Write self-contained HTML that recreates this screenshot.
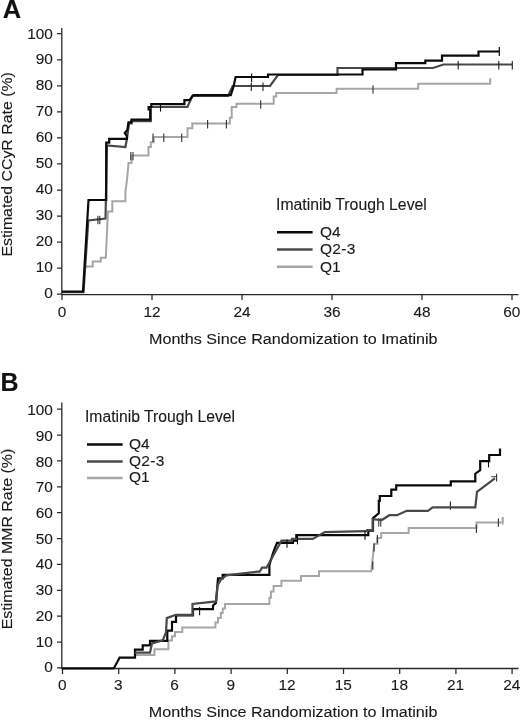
<!DOCTYPE html>
<html lang="en"><head><meta charset="utf-8"><title>Imatinib Trough Level</title>
<style>html,body{margin:0;padding:0;background:#fff}svg{display:block}text{stroke:#1a1a1a;stroke-width:.12px}</style></head><body>
<svg width="520" height="723" viewBox="0 0 520 723" font-family="'Liberation Sans', Arial, Helvetica, sans-serif" fill="#1a1a1a">
<rect width="520" height="723" fill="#fff"/>
<text x="2.7" y="18" font-size="25" font-weight="bold" fill="#111" textLength="18.4" lengthAdjust="spacingAndGlyphs">A</text>
<path d="M61.8,28V294.7H518.5" stroke="#2a2a2a" stroke-width="1.3" fill="none"/>
<path d="M57,294.20H61.8M57,268.15H61.8M57,242.10H61.8M57,216.05H61.8M57,190.00H61.8M57,163.95H61.8M57,137.90H61.8M57,111.85H61.8M57,85.80H61.8M57,59.75H61.8M57,33.70H61.8M62.0,294.7V300M152.0,294.7V300M242.0,294.7V300M332.0,294.7V300M422.0,294.7V300M512.0,294.7V300" stroke="#2a2a2a" stroke-width="1.25" fill="none"/>
<text x="52.9" y="297.5" font-size="15.4" text-anchor="end">0</text>
<text x="52.9" y="271.6" font-size="15.4" text-anchor="end">10</text>
<text x="52.9" y="245.7" font-size="15.4" text-anchor="end">20</text>
<text x="52.9" y="219.8" font-size="15.4" text-anchor="end">30</text>
<text x="52.9" y="193.9" font-size="15.4" text-anchor="end">40</text>
<text x="52.9" y="168.0" font-size="15.4" text-anchor="end">50</text>
<text x="52.9" y="142.1" font-size="15.4" text-anchor="end">60</text>
<text x="52.9" y="116.2" font-size="15.4" text-anchor="end">70</text>
<text x="52.9" y="90.3" font-size="15.4" text-anchor="end">80</text>
<text x="52.9" y="64.4" font-size="15.4" text-anchor="end">90</text>
<text x="52.9" y="38.5" font-size="15.4" text-anchor="end">100</text>
<text x="62.1" y="316.9" font-size="15.4" text-anchor="middle">0</text>
<text x="152.1" y="316.9" font-size="15.4" text-anchor="middle">12</text>
<text x="242.1" y="316.9" font-size="15.4" text-anchor="middle">24</text>
<text x="332.1" y="316.9" font-size="15.4" text-anchor="middle">36</text>
<text x="422.1" y="316.9" font-size="15.4" text-anchor="middle">48</text>
<text x="511.8" y="316.9" font-size="15.4" text-anchor="middle">60</text>
<text x="149" y="344" font-size="15.3" textLength="288.6" lengthAdjust="spacingAndGlyphs">Months Since Randomization to Imatinib</text>
<text transform="translate(12.2,256.6) rotate(-90)" font-size="15" textLength="184.5" lengthAdjust="spacingAndGlyphs">Estimated CCyR Rate (%)</text>
<text x="276" y="210" font-size="15.8" textLength="150.8" lengthAdjust="spacingAndGlyphs">Imatinib Trough Level</text>
<path d="M277,232.3H312.6" stroke="#0a0a0a" stroke-width="2.5"/>
<text x="320" y="237.0" font-size="15.5">Q4</text>
<path d="M277,249.6H312.6" stroke="#484848" stroke-width="2.5"/>
<text x="320" y="254.3" font-size="15.5" textLength="35.4">Q2-3</text>
<path d="M277,266.8H312.6" stroke="#a6a6a6" stroke-width="2.5"/>
<text x="320" y="271.5" font-size="15.5">Q1</text>
<path d="M86,266.5H92.7V261.5H100.8V257.7H105.8L108,211.4H112.3V201.2H125.4V192L127,180L128.5,163H131.5V155.4H148.5V147H150.8V142.3H153.7V137H187.5V128.3H192.3V123.5H229.8V117.7H231.7V107H236.5V103.8H273.7V96.6H276.2V93H336.6V88.8H418.2V83.8H490.2V78.2" stroke="#a6a6a6" stroke-width="2.0" fill="none" stroke-linejoin="miter"/>
<path d="M130.8,151.9V160.3M133.0,151.9V160.3" stroke="#333" stroke-width="1.1" fill="none"/>
<path d="M153.0,133.5V141.9M163.8,133.5V141.9M181.7,133.5V141.9" stroke="#333" stroke-width="1.1" fill="none"/>
<path d="M207.6,120.0V128.4M226.4,120.0V128.4" stroke="#333" stroke-width="1.1" fill="none"/>
<path d="M260.7,100.3V108.7" stroke="#333" stroke-width="1.1" fill="none"/>
<path d="M373.0,85.3V93.7" stroke="#333" stroke-width="1.1" fill="none"/>
<path d="M62,292.2H83.5L88.3,220.4L105.5,218.5L107,145.5L125.4,147L127,138.5L129,123.5H131.5V121.2H150.8V107H187.5L192.3,96H228L232.7,86H270L278,75H337.5V68H433L443.4,64.5H512.3" stroke="#484848" stroke-width="2.2" fill="none" stroke-linejoin="miter"/>
<path d="M97.9,215.8V224.2M99.8,215.8V224.2" stroke="#222" stroke-width="1.0" fill="none"/>
<path d="M251.3,82.5V90.9M263.0,82.5V90.9" stroke="#222" stroke-width="1.1" fill="none"/>
<path d="M458.2,61.0V69.4M498.8,61.0V69.4M512.3,61.0V69.4" stroke="#222" stroke-width="1.1" fill="none"/>
<path d="M62,291.5H83L88.5,200H106.2V142.6H109.2V138.9H126.9V136L124.8,133L127.3,130L128.5,122.3H131.5V119.7H150.2V109.5H148.6V107H151.3V104.2H184.4V100.2H189.4L193.3,95.2H230.8L233.7,86L235.6,77H268V74.5H362.5V69.5H396V63.2H425.3V60.6H442V55.6H478.5V51.5H499.3" stroke="#0a0a0a" stroke-width="2.2" fill="none" stroke-linejoin="miter"/>
<path d="M160.5,103.1V111.5" stroke="#0a0a0a" stroke-width="1.1" fill="none"/>
<path d="M251.6,73.5V81.9" stroke="#0a0a0a" stroke-width="1.1" fill="none"/>
<path d="M499.3,47V56" stroke="#0a0a0a" stroke-width="1.2"/>
<text x="0.4" y="391.2" font-size="25" font-weight="bold" fill="#111">B</text>
<path d="M61.8,402.5V668.5H518.5" stroke="#2a2a2a" stroke-width="1.3" fill="none"/>
<path d="M57,667.90H61.8M57,642.03H61.8M57,616.16H61.8M57,590.29H61.8M57,564.42H61.8M57,538.55H61.8M57,512.68H61.8M57,486.81H61.8M57,460.94H61.8M57,435.07H61.8M57,409.20H61.8M62.5,668.5V674M118.7,668.5V674M174.9,668.5V674M231.1,668.5V674M287.3,668.5V674M343.5,668.5V674M399.7,668.5V674M455.9,668.5V674M512.1,668.5V674" stroke="#2a2a2a" stroke-width="1.25" fill="none"/>
<text x="52.9" y="672.3" font-size="15.4" text-anchor="end">0</text>
<text x="52.9" y="646.6" font-size="15.4" text-anchor="end">10</text>
<text x="52.9" y="620.9" font-size="15.4" text-anchor="end">20</text>
<text x="52.9" y="595.1" font-size="15.4" text-anchor="end">30</text>
<text x="52.9" y="569.4" font-size="15.4" text-anchor="end">40</text>
<text x="52.9" y="543.7" font-size="15.4" text-anchor="end">50</text>
<text x="52.9" y="518.0" font-size="15.4" text-anchor="end">60</text>
<text x="52.9" y="492.3" font-size="15.4" text-anchor="end">70</text>
<text x="52.9" y="466.5" font-size="15.4" text-anchor="end">80</text>
<text x="52.9" y="440.8" font-size="15.4" text-anchor="end">90</text>
<text x="52.9" y="415.1" font-size="15.4" text-anchor="end">100</text>
<text x="62.2" y="690.3" font-size="15.4" text-anchor="middle">0</text>
<text x="118.4" y="690.3" font-size="15.4" text-anchor="middle">3</text>
<text x="174.6" y="690.3" font-size="15.4" text-anchor="middle">6</text>
<text x="230.8" y="690.3" font-size="15.4" text-anchor="middle">9</text>
<text x="287.0" y="690.3" font-size="15.4" text-anchor="middle">12</text>
<text x="343.2" y="690.3" font-size="15.4" text-anchor="middle">15</text>
<text x="399.4" y="690.3" font-size="15.4" text-anchor="middle">18</text>
<text x="455.6" y="690.3" font-size="15.4" text-anchor="middle">21</text>
<text x="511.8" y="690.3" font-size="15.4" text-anchor="middle">24</text>
<text x="148.8" y="717.2" font-size="15.3" textLength="288.6" lengthAdjust="spacingAndGlyphs">Months Since Randomization to Imatinib</text>
<text transform="translate(12.2,629.3) rotate(-90)" font-size="15" textLength="180.5" lengthAdjust="spacingAndGlyphs">Estimated MMR Rate (%)</text>
<text x="85" y="421.5" font-size="15.8" textLength="150" lengthAdjust="spacingAndGlyphs">Imatinib Trough Level</text>
<path d="M87,444.4H122.6" stroke="#0a0a0a" stroke-width="2.5"/>
<text x="129" y="448.9" font-size="15.5">Q4</text>
<path d="M87,461.4H122.6" stroke="#484848" stroke-width="2.5"/>
<text x="129" y="465.9" font-size="15.5" textLength="35.4">Q2-3</text>
<path d="M87,477.9H122.6" stroke="#a6a6a6" stroke-width="2.5"/>
<text x="129" y="482.4" font-size="15.5">Q1</text>
<g transform="translate(0,0.4)">
<path d="M135,654.6H154.5V648.8H168.4V640H172V635.8H175V631.5H182.3V627H215.4V622H218V617.5H220.8V612.7H222.7V608H225V603.6H269.4V597.3H270.9V591H273.6V585.7H281.4V580.4H301V575.7H319V570.9H371.2L374.3,543.4H377.4V537.6H381.2V532.7H408.7V527.5H476.4V522H502.7V516.5" stroke="#a6a6a6" stroke-width="2.0" fill="none" stroke-linejoin="miter"/>
<path d="M372.8,561.0V569.4" stroke="#333" stroke-width="1.2" fill="none"/>
<path d="M374.0,543.0V551.0" stroke="#333" stroke-width="1.2" fill="none"/>
<path d="M377.4,534.5V542.9" stroke="#333" stroke-width="1.2" fill="none"/>
<path d="M476.4,524.3V532.7" stroke="#333" stroke-width="1.1" fill="none"/>
<path d="M498.4,518.0V526.4" stroke="#333" stroke-width="1.1" fill="none"/>
<path d="M502.7,516.7V524.7" stroke="#a6a6a6" stroke-width="1.2" fill="none"/>
<path d="M378.8,517.8V526.2M380.8,517.8V526.2" stroke="#222" stroke-width="1.0" fill="none"/>
<path d="M450.4,501.0V509.4" stroke="#222" stroke-width="1.1" fill="none"/>
<path d="M496.6,473.3V481M491.4,476.4H496.6" stroke="#333" stroke-width="1.1" fill="none"/>
<path d="M62,668H113.8L119.6,657.3H135V649.2H142.7V645H150V640.5H167.3V630.3H172V621.5H176V615H193V608.8H213V605L216,602.5L218,578H222.7V574.5H269.4V564.4L272,556L274,550L277,542.5H293V540.2H296.3V534.8H368.3V530.2H373V517.7L378.8,512.9V500.4H379.8V495.6H391.3V489.2H396.2V485H450.8V481H475.3V473.3L480.2,469.8V460.8H489.2V454.6H500V448.2" stroke="#0a0a0a" stroke-width="2.2" fill="none" stroke-linejoin="miter"/>
<path d="M135,652.3H150L152,643L162.7,640L166,632L166.8,617.7L175.8,614.4H192.5V603.5L216,601L217.6,585L221,579L226.5,575L257.3,571.3L259.6,571.3L262,567.3H266.5L281.5,540.2H292V538.5H312.7L324.8,531.7L365,530.7H367.3V529.6H372.7V518.7L381.7,519.6L389.4,514.8H397L406.7,510.4H427.9L432.7,507H475.3L477,491.4L494.9,478" stroke="#484848" stroke-width="2.2" fill="none" stroke-linejoin="miter"/>
<path d="M199.6,606.5V614.9" stroke="#0a0a0a" stroke-width="1.1" fill="none"/>
<path d="M287.0,539.0V547.4" stroke="#0a0a0a" stroke-width="1.1" fill="none"/>
<path d="M297.5,535.5V543.9" stroke="#0a0a0a" stroke-width="1.1" fill="none"/>
<path d="M365.0,531.0V539.4" stroke="#0a0a0a" stroke-width="1.1" fill="none"/>
<path d="M488.5,460.8V467" stroke="#0a0a0a" stroke-width="1.1"/>
</g>
</svg></body></html>
